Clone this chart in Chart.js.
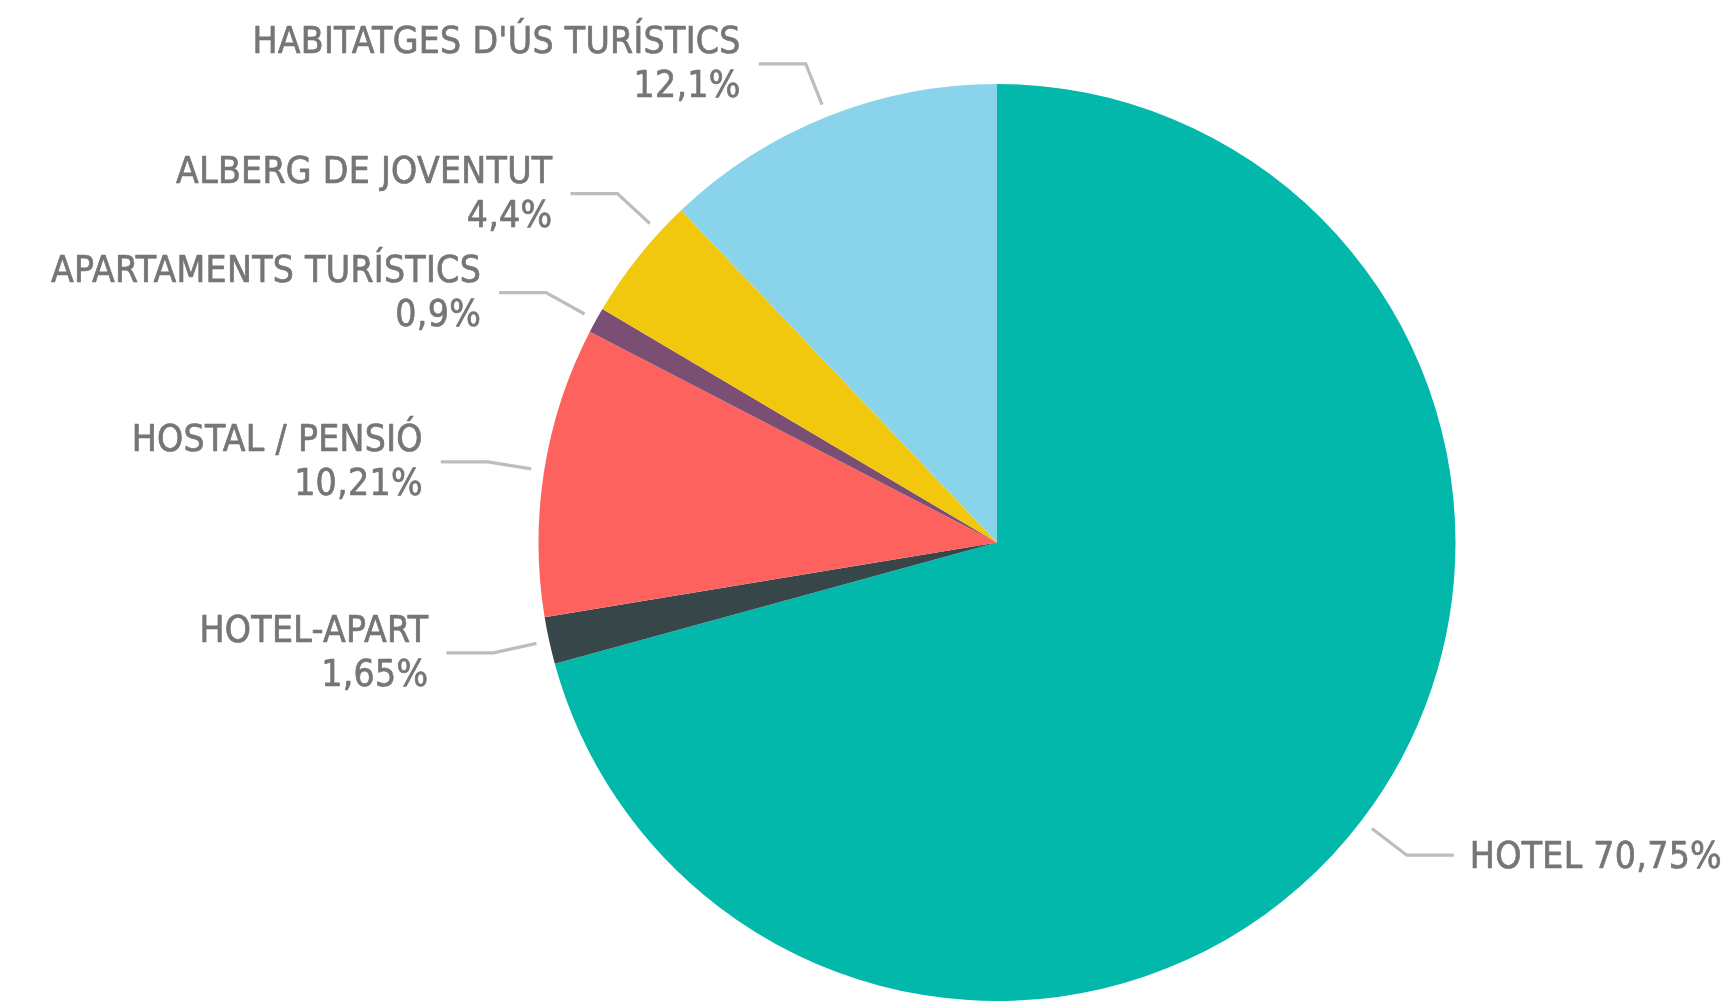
<!DOCTYPE html>
<html>
<head>
<meta charset="utf-8">
<script src="https://cdn.jsdelivr.net/npm/chart.js@4.4.1/dist/chart.umd.min.js"></script>
<style>
  html, body { margin: 0; padding: 0; background: #ffffff; }
  #wrap { width: 1721px; height: 1001px; position: relative; }
</style>
</head>
<body>
<div id="wrap"><canvas id="c"></canvas></div>
<script>
// ---- Data ----
const categories = ["HOTEL", "HOTEL-APART", "HOSTAL / PENSIÓ", "APARTAMENTS TURÍSTICS", "ALBERG DE JOVENTUT", "HABITATGES D'ÚS TURÍSTICS"];
const shares = [70.75, 1.65, 10.21, 0.9, 4.4, 12.1];
const sliceColors = ["#01B8AA", "#374649", "#FD625E", "#7A4F73", "#F2C80F", "#8AD4EB"];

// ---- Styling ----
const LABEL_FONT = "37px 'DejaVu Sans Condensed', 'DejaVu Sans', sans-serif";
const LABEL_COLOR = "#767676";
const LEADER_COLOR = "#BDBDBD";

function fmtPct(v) { return String(v).replace('.', ',') + '%'; }

const labelPlugin = {
  id: 'outsideLabels',
  afterDraw(chart) {
    const ctx = chart.ctx;
    const meta = chart.getDatasetMeta(0);
    const items = meta.data.map((arc, i) => {
      const p = arc.getProps(['x', 'y', 'startAngle', 'endAngle', 'outerRadius'], true);
      const mid = (p.startAngle + p.endAngle) / 2;
      const r1 = p.outerRadius + 13;
      const r2 = p.outerRadius + 57;
      return {
        i, cx: p.x, cy: p.y, r1, r2, ang: mid,
        right: Math.cos(mid) >= 0,
        ey: p.y + r2 * Math.sin(mid)
      };
    });
    // simple collision avoidance on the left side (bottom to top)
    const minGap = 99;
    const left = items.filter(o => !o.right).sort((a, b) => b.ey - a.ey);
    for (let k = 1; k < left.length; k++) {
      const prev = left[k - 1], cur = left[k];
      if (cur.ey > prev.ey - minGap) {
        cur.ey = prev.ey - minGap;
        const s = Math.max(-1, Math.min(1, (cur.ey - cur.cy) / cur.r2));
        cur.ang = Math.PI - Math.asin(s);
      }
    }
    ctx.save();
    ctx.font = LABEL_FONT;
    if ('letterSpacing' in ctx) ctx.letterSpacing = '0.3px';
    items.forEach(o => {
      const ca = Math.cos(o.ang), sa = Math.sin(o.ang);
      const sx = o.cx + o.r1 * ca, sy = o.cy + o.r1 * sa;
      const ex = o.cx + o.r2 * ca, ey = o.cy + o.r2 * sa;
      const hx = o.right ? ex + 47 : ex - 47;
      ctx.strokeStyle = LEADER_COLOR;
      ctx.lineWidth = 3.2;
      ctx.lineJoin = 'miter';
      ctx.beginPath();
      ctx.moveTo(sx, sy);
      ctx.lineTo(ex, ey);
      ctx.lineTo(hx, ey);
      ctx.stroke();
      ctx.fillStyle = LABEL_COLOR;
      ctx.strokeStyle = LABEL_COLOR;
      ctx.lineWidth = 0.7;
      ctx.lineJoin = 'round';
      ctx.textBaseline = 'alphabetic';
      const name = categories[o.i], pct = fmtPct(shares[o.i]);
      const put = (t, x, y) => { ctx.fillText(t, x, y); ctx.strokeText(t, x, y); };
      if (o.right) {
        ctx.textAlign = 'left';
        put(name + ' ' + pct, hx + 16, ey + 13);
      } else {
        ctx.textAlign = 'right';
        put(name, hx - 18, ey - 11);
        put(pct, hx - 18, ey + 33);
      }
    });
    ctx.restore();
  }
};

new Chart(document.getElementById('c'), {
  type: 'pie',
  data: {
    labels: categories,
    datasets: [{
      data: shares,
      backgroundColor: sliceColors,
      borderWidth: 0,
      hoverOffset: 0
    }]
  },
  options: {
    responsive: true,
    maintainAspectRatio: false,
    devicePixelRatio: 1,
    animation: false,
    layout: { padding: { left: 538, right: 265, top: 84, bottom: 0 } },
    plugins: {
      legend: { display: false },
      tooltip: { enabled: false }
    }
  },
  plugins: [labelPlugin]
});
</script>
</body>
</html>
